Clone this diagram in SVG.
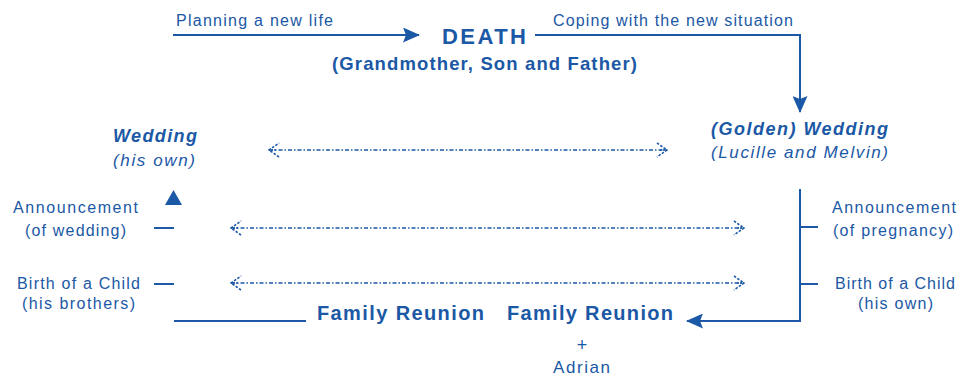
<svg xmlns="http://www.w3.org/2000/svg" width="962" height="378" viewBox="0 0 962 378">
<defs>
<style>
text{font-family:"Liberation Sans",Arial,sans-serif;fill:#1b58a5}
.s{font-size:16px}
.b{font-weight:bold}
.i{font-style:italic}
.m{text-anchor:middle}
.ln{fill:none;stroke:#1b58a5;stroke-width:2}
.dl{fill:none;stroke:#1b58a5;stroke-width:1.4;stroke-dasharray:4 2 1.5 2}
</style>
<marker id="ah" viewBox="0 0 17 15" refX="16" refY="7.5" markerWidth="17" markerHeight="15" markerUnits="userSpaceOnUse" orient="auto">
<path d="M0,0 L17,7.5 L0,15 L3,7.5 Z" fill="#1b58a5"/>
</marker>
<marker id="ch" viewBox="0 0 12 16" refX="11" refY="8" markerWidth="12" markerHeight="16" markerUnits="userSpaceOnUse" orient="auto-start-reverse">
<path d="M1,1 L11,8 L1,15" fill="none" stroke="#1b58a5" stroke-width="1.6" stroke-dasharray="2.5 1.5"/>
<path d="M4,8 H11" fill="none" stroke="#1b58a5" stroke-width="1.4" stroke-dasharray="2 1"/>
</marker>
</defs>
<rect width="962" height="378" fill="#fff"/>

<g id="connectors">
<path class="ln" d="M173,35 H419" marker-end="url(#ah)"/>
<path class="ln" d="M535,35 H800 V112" marker-end="url(#ah)"/>
<path class="ln" d="M800,189 V321 H687" marker-end="url(#ah)"/>
<path class="ln" d="M800,227 H818 M800,284 H818"/>
<path class="ln" d="M154,228 H174 M154,284 H174"/>
<path class="ln" d="M174,321 H306"/>
<polygon points="165,205 173.5,190 182,205" fill="#1b58a5"/>
<path class="dl" d="M269,150 H667" marker-start="url(#ch)" marker-end="url(#ch)"/>
<path class="dl" d="M231,228 H744" marker-start="url(#ch)" marker-end="url(#ch)"/>
<path class="dl" d="M231,283 H744" marker-start="url(#ch)" marker-end="url(#ch)"/>
</g>

<g id="label-planning"><text class="s" x="176" y="26" textLength="157" lengthAdjust="spacing">Planning a new life</text></g>
<g id="label-coping"><text class="s" x="553" y="26" textLength="240" lengthAdjust="spacing">Coping with the new situation</text></g>

<g id="death">
<text class="b" x="442" y="44" font-size="22" textLength="84" lengthAdjust="spacing">DEATH</text>
<text class="b" x="332" y="70" font-size="18.5" textLength="305" lengthAdjust="spacing">(Grandmother, Son and Father)</text>
</g>

<g id="wedding-own">
<text class="b i" x="113" y="142" font-size="18" textLength="84" lengthAdjust="spacing">Wedding</text>
<text class="i" x="113" y="166" font-size="17" textLength="82" lengthAdjust="spacing">(his own)</text>
</g>

<g id="golden-wedding">
<text class="b i" x="711" y="135" font-size="18" textLength="177" lengthAdjust="spacing">(Golden) Wedding</text>
<text class="i" x="711" y="158" font-size="17" textLength="177" lengthAdjust="spacing">(Lucille and Melvin)</text>
</g>

<g id="announce-wedding">
<text class="s" x="13" y="213" textLength="125" lengthAdjust="spacing">Announcement</text>
<text class="s" x="25" y="236" textLength="101" lengthAdjust="spacing">(of wedding)</text>
</g>

<g id="birth-brothers">
<text class="s" x="17" y="289" textLength="123" lengthAdjust="spacing">Birth of a Child</text>
<text class="s" x="22" y="309" textLength="113" lengthAdjust="spacing">(his brothers)</text>
</g>

<g id="announce-pregnancy">
<text class="s" x="832" y="213" textLength="124" lengthAdjust="spacing">Announcement</text>
<text class="s" x="833" y="236" textLength="120" lengthAdjust="spacing">(of pregnancy)</text>
</g>

<g id="birth-own">
<text class="s" x="835" y="289" textLength="120" lengthAdjust="spacing">Birth of a Child</text>
<text class="s" x="858" y="309" textLength="75" lengthAdjust="spacing">(his own)</text>
</g>

<g id="reunion-1"><text class="b" x="317" y="320" font-size="20" textLength="167" lengthAdjust="spacing">Family Reunion</text></g>
<g id="reunion-2">
<text class="b" x="507" y="320" font-size="20" textLength="166" lengthAdjust="spacing">Family Reunion</text>
<text class="m" x="582" y="351" font-size="18">+</text>
<text x="553" y="373" font-size="17" textLength="57" lengthAdjust="spacing">Adrian</text>
</g>
</svg>
